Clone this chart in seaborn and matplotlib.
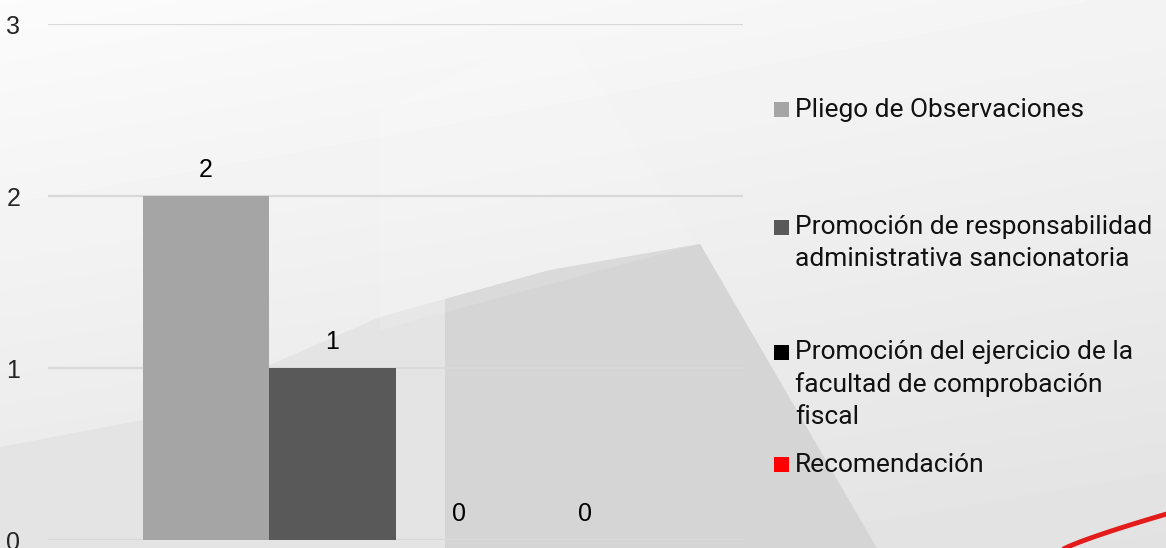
import numpy as np
import pandas as pd
import matplotlib.pyplot as plt
from matplotlib.patches import Rectangle, Polygon
import seaborn as sns

# data
series = ['Pliego de Observaciones',
          'Promoción de responsabilidad\nadministrativa sancionatoria',
          'Promoción del ejercicio de la\nfacultad de comprobación\nfiscal',
          'Recomendación']
values = [2, 1, 0, 0]
colors = ['#a5a5a5', '#595959', '#000000', '#ff0000']
yticks = [0, 1, 2, 3]

df = pd.DataFrame({'cat': [''] * len(series), 'serie': series, 'valor': values})

sns.set_style('white')
plt.rcParams['font.family'] = ['Liberation Sans', 'DejaVu Sans']

W, H = 1166, 548
fig = plt.figure(figsize=(W / 100, H / 100), dpi=100)

# background (pixel coords, y down)
bg = fig.add_axes([0, 0, 1, 1], zorder=-10)
xx, yy = np.meshgrid(np.linspace(0, 1, 300), np.linspace(0, 1, 150))
c_tl, c_tr, c_bl, c_br = 0.985, 0.955, 0.91, 0.885
grad = (c_tl * (1 - xx) * (1 - yy) + c_tr * xx * (1 - yy)
        + c_bl * (1 - xx) * yy + c_br * xx * yy)
bg.imshow(grad, cmap='gray', vmin=0, vmax=1, extent=[0, W, H, 0],
          aspect='auto', interpolation='bilinear')

curve_x = np.linspace(0, 700, 60)
curve_y = np.interp(curve_x, [0, 143, 380, 550, 700], [447, 420, 317, 270, 244])
diag_bot = 563 + 0.6 * (H - 25)
poly_a = np.column_stack([np.r_[curve_x, diag_bot, 0], np.r_[curve_y, H, H]])
bg.add_patch(Polygon(poly_a, closed=True, color='#e4e4e4', lw=0))
m = curve_x >= 445
poly_b = np.column_stack([np.r_[445, curve_x[m], diag_bot, 445],
                          np.r_[np.interp(445, curve_x, curve_y), curve_y[m], H, H]])
bg.add_patch(Polygon(poly_b, closed=True, color='#d5d5d5', lw=0))
bg.add_patch(Polygon([[380, 110], [563, 25], [563 + 0.6 * 220, 245], [380, 330]],
                     closed=True, color='#ffffff', alpha=0.12, lw=0))

tt = np.linspace(0, 1, 50)
bg.plot(1062 + 108 * tt, 550 - 37 * tt ** 0.85, color='#e31b1b', lw=3.5,
        solid_capstyle='round')
bg.set_xlim(0, W)
bg.set_ylim(H, 0)
bg.axis('off')

# chart
ax = fig.add_axes([48 / W, 1 - 540 / H, 695 / W, 516 / H])
ax.set_facecolor('none')
sns.barplot(data=df, x='cat', y='valor', hue='serie', hue_order=series,
            palette=colors, width=0.727, gap=0, saturation=1, legend=False,
            edgecolor='none', ax=ax)

for cont in ax.containers:
    ax.bar_label(cont, padding=10, fontsize=18, color='#000000')

ax.set_ylim(0, 3)
ax.set_yticks(yticks)
ax.set_yticklabels([str(t) for t in yticks], fontsize=18)
ax.tick_params(axis='y', length=0, pad=20)
ax.set_xticks([])
ax.set_xlabel('')
ax.set_ylabel('')
ax.yaxis.grid(True, color='#d9d9d9', linewidth=1.6)
ax.set_axisbelow(True)
sns.despine(ax=ax, left=True, bottom=True)

# legend drawn by hand so the square sits next to the first line
leg_y = [109.5, 227.5, 352.5, 464.5]
for yc, lab, col in zip(leg_y, series, colors):
    fig.patches.append(Rectangle((774 / W, 1 - (yc + 7.5) / H), 15 / W, 15 / H,
                                 transform=fig.transFigure, color=col, lw=0))
    fig.text(795 / W, 1 - (yc - 12) / H, lab, fontsize=19, family='Roboto',
             va='top', ha='left', linespacing=1.4, color='#111111')

fig.savefig('out.png', dpi=100)
